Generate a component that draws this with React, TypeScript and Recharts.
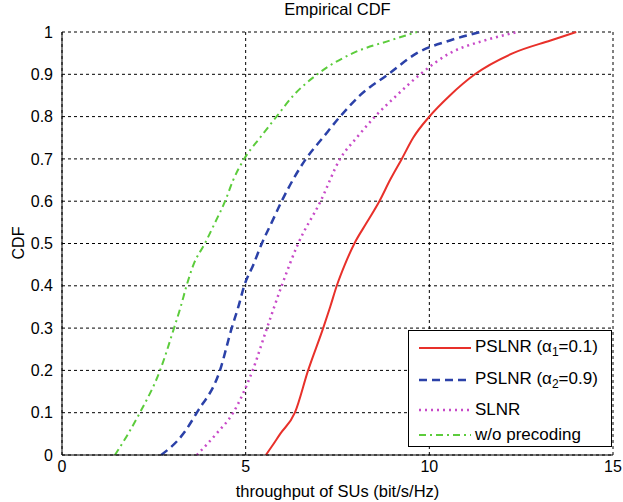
import { LineChart, Line, XAxis, YAxis, CartesianGrid } from "recharts"

// CDF levels and throughput (bit/s/Hz), one pair per curve
const pslnr1Cdf = [0, 0.02, 0.05, 0.1, 0.2, 0.3, 0.35, 0.4, 0.45, 0.5, 0.55, 0.6, 0.65, 0.7, 0.75, 0.8, 0.85, 0.9, 0.95, 0.98, 1]
const pslnr1 = [5.55, 5.71, 5.94, 6.34, 6.7, 7.11, 7.3, 7.48, 7.7, 7.96, 8.3, 8.64, 8.93, 9.25, 9.56, 10.0, 10.56, 11.24, 12.28, 13.3, 14.0]

const pslnr2Cdf = [0, 0.05, 0.1, 0.2, 0.3, 0.35, 0.4, 0.45, 0.5, 0.55, 0.6, 0.7, 0.75, 0.8, 0.85, 0.9, 0.95, 0.98, 1]
const pslnr2 = [2.7, 3.3, 3.67, 4.3, 4.62, 4.8, 4.96, 5.21, 5.44, 5.71, 5.98, 6.64, 7.1, 7.57, 8.11, 8.88, 9.66, 10.56, 11.38]

const slnrCdf = [0, 0.05, 0.1, 0.2, 0.3, 0.4, 0.5, 0.6, 0.7, 0.75, 0.8, 0.85, 0.9, 0.95, 0.98, 1]
const slnr = [3.67, 4.2, 4.66, 5.19, 5.58, 5.98, 6.43, 7.04, 7.57, 8.02, 8.52, 9.11, 9.75, 10.56, 11.5, 12.41]

const noPrecodingCdf = [0, 0.05, 0.1, 0.2, 0.3, 0.35, 0.4, 0.45, 0.5, 0.55, 0.6, 0.65, 0.7, 0.75, 0.8, 0.85, 0.9, 0.95, 0.98, 1]
const noPrecoding = [1.44, 1.8, 2.12, 2.67, 3.05, 3.23, 3.39, 3.58, 3.89, 4.17, 4.44, 4.66, 4.96, 5.39, 5.84, 6.3, 6.95, 7.92, 8.93, 9.66]

const xTicks = [0, 5, 10, 15]
const yTicks = [0, 0.1, 0.2, 0.3, 0.4, 0.5, 0.6, 0.7, 0.8, 0.9, 1]

const toPoints = (xs: number[], ys: number[]) => xs.map((x, i) => ({ x, y: ys[i] }))

const FONT = '"Liberation Sans", Arial, sans-serif'

const series = [
  { key: "pslnr1", data: toPoints(pslnr1, pslnr1Cdf), color: "#e8302a", dash: undefined as string | undefined, width: 2 },
  { key: "pslnr2", data: toPoints(pslnr2, pslnr2Cdf), color: "#2b41a8", dash: "8 5", width: 2.5 },
  { key: "slnr", data: toPoints(slnr, slnrCdf), color: "#c84ac8", dash: "2 4", width: 2.5 },
  { key: "noprec", data: toPoints(noPrecoding, noPrecodingCdf), color: "#5ccc3c", dash: "7 4 2 4", width: 2 },
]

const legendItems = [
  { label: <>PSLNR (α<sub style={{ fontSize: 12 }}>1</sub>=0.1)</>, color: "#e8302a", dash: undefined as string | undefined, width: 2 },
  { label: <>PSLNR (α<sub style={{ fontSize: 12 }}>2</sub>=0.9)</>, color: "#2b41a8", dash: "8 5", width: 2.5 },
  { label: <>SLNR</>, color: "#c84ac8", dash: "2 4", width: 2.5 },
  { label: <>w/o precoding</>, color: "#5ccc3c", dash: "7 4 2 4", width: 2 },
]

const YLabel = () => (
  <text x={18} y={243} transform="rotate(-90 18 243)" textAnchor="middle" dominantBaseline="central"
    fontSize={16} fontFamily={FONT} fill="#000">CDF</text>
)

export default function App() {
  return (
    <div style={{ position: "absolute", left: 0, top: 0, width: 623, height: 502, background: "#fff", fontFamily: FONT }}>
      <div style={{ position: "absolute", left: 0, width: 623, top: 0, textAlign: "center", paddingLeft: 52, boxSizing: "border-box", fontSize: 16.5 }}>
        Empirical CDF
      </div>
      <LineChart width={623} height={502} margin={{ top: 32, right: 10, bottom: 0, left: 0 }}>
        <CartesianGrid stroke="#000" strokeDasharray="3 3" />
        <XAxis type="number" dataKey="x" domain={[0, 15]} ticks={xTicks} height={47}
          tickLine={false} tickSize={0} tickMargin={6} axisLine={{ stroke: "#000" }}
          tick={{ fontSize: 16, fill: "#000", fontFamily: FONT }}
          allowDuplicatedCategory={false}
          label={{ value: "throughput of SUs (bit/s/Hz)", position: "insideBottom", offset: 5, fontSize: 16.5, fill: "#000", fontFamily: FONT }} />
        <YAxis type="number" dataKey="y" domain={[0, 1]} ticks={yTicks} width={62}
          tickLine={false} tickSize={0} tickMargin={9} axisLine={{ stroke: "#000" }}
          tick={{ fontSize: 16, fill: "#000", fontFamily: FONT }}
          label={<YLabel />} />
        {series.map((s) => (
          <Line key={s.key} data={s.data} dataKey="y" type="monotone" stroke={s.color} strokeWidth={s.width}
            strokeDasharray={s.dash} dot={false} activeDot={false} isAnimationActive={false} />
        ))}
      </LineChart>
      <div style={{ position: "absolute", left: 408, top: 330, width: 204, height: 117, boxSizing: "border-box",
        border: "1.5px solid #000", background: "#fff", fontSize: 17 }}>
        {legendItems.map((it, i) => (
          <div key={i} style={{ position: "absolute", left: 10, top: [6, 38, 68, 93][i], height: 22, display: "flex", alignItems: "center", whiteSpace: "nowrap" }}>
            <svg width={52} height={6} style={{ marginRight: 4 }}>
              <line x1={0} y1={3} x2={52} y2={3} stroke={it.color} strokeWidth={it.width} strokeDasharray={it.dash} />
            </svg>
            <span>{it.label}</span>
          </div>
        ))}
      </div>
    </div>
  )
}
